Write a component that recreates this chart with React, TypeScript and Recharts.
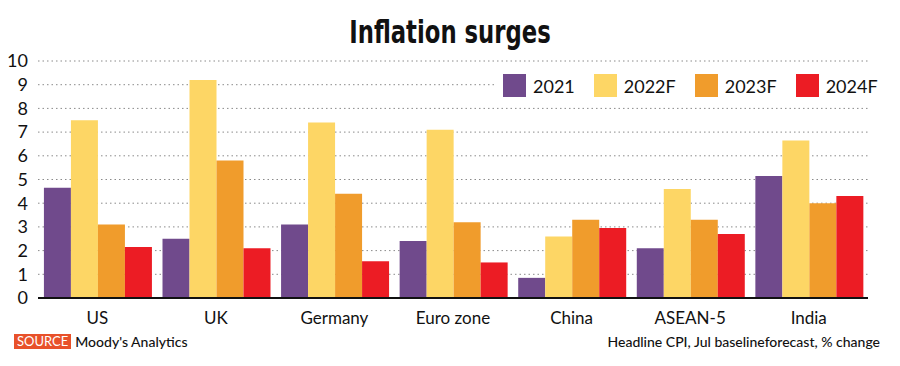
import React from 'react';
import { BarChart, Bar, XAxis, YAxis, CartesianGrid } from 'recharts';

const countries = ['US', 'UK', 'Germany', 'Euro zone', 'China', 'ASEAN-5', 'India'];
const cpi2021 = [4.65, 2.5, 3.1, 2.4, 0.85, 2.1, 5.15];
const cpi2022F = [7.5, 9.2, 7.4, 7.1, 2.6, 4.6, 6.65];
const cpi2023F = [3.1, 5.8, 4.4, 3.2, 3.3, 3.3, 4.0];
const cpi2024F = [2.15, 2.1, 1.55, 1.5, 2.95, 2.7, 4.3];
const yTicks = [0, 1, 2, 3, 4, 5, 6, 7, 8, 9, 10];

const seriesMeta = [
  { key: 'y2021', name: '2021', color: '#704a8c' },
  { key: 'y2022F', name: '2022F', color: '#fdd665' },
  { key: 'y2023F', name: '2023F', color: '#f09c2c' },
  { key: 'y2024F', name: '2024F', color: '#ec1c24' },
];

const data = countries.map((c, i) => ({
  country: c,
  y2021: cpi2021[i],
  y2022F: cpi2022F[i],
  y2023F: cpi2023F[i],
  y2024F: cpi2024F[i],
}));

const FONT = 'Lato, "Noto Sans", sans-serif';

// legend sits on a white box so it hides the dotted grid line behind it
const LegendBox = () => (
  <div style={{ position: 'absolute', left: 495, top: 70, display: 'flex', alignItems: 'center', background: '#fff', padding: '4px 0 4px 8px' }}>
    {seriesMeta.map((s, i) => (
      <div key={s.key} style={{ display: 'flex', alignItems: 'center', marginRight: i < 3 ? 19 : 0 }}>
        <span style={{ width: 23, height: 23, background: s.color, display: 'inline-block', marginRight: 7 }} />
        <span style={{ fontSize: 18, color: '#111' }}>{s.name}</span>
      </div>
    ))}
  </div>
);

const App = () => {
  return (
    <div style={{ position: 'absolute', left: 0, top: 0, width: 900, height: 366, background: '#fff', fontFamily: FONT }}>
      <div
        style={{
          position: 'absolute', left: 0, width: 900, top: 12, textAlign: 'center',
          fontFamily: '"Liberation Sans Narrow", "DejaVu Sans Condensed", "Liberation Sans", sans-serif',
          fontWeight: 700, fontSize: 32, lineHeight: '40px', color: '#111',
          transform: 'scaleX(0.79)',
        }}
      >
        Inflation surges
      </div>
      <BarChart
        width={900}
        height={366}
        data={data}
        margin={{ top: 61, right: 32, left: 0, bottom: 38 }}
        barCategoryGap="5%"
        barGap={0}
      >
        <CartesianGrid vertical={false} stroke="#8a8a8a" strokeDasharray="1.5 3" />
        <XAxis
          dataKey="country"
          axisLine={{ stroke: '#111', strokeWidth: 2 }}
          tickLine={false}
          tickMargin={8}
          height={30}
          tick={{ fontSize: 17, fill: '#111', fontFamily: FONT }}
        />
        <YAxis
          width={38}
          domain={[0, 10]}
          ticks={yTicks}
          interval={0}
          axisLine={false}
          tickLine={false}
          tickMargin={4}
          tick={{ fontSize: 18, fill: '#111', fontFamily: FONT }}
        />
        {seriesMeta.map((s) => (
          <Bar key={s.key} dataKey={s.key} name={s.name} fill={s.color} isAnimationActive={false} />
        ))}
      </BarChart>
      <LegendBox />
      <div style={{ position: 'absolute', left: 14, top: 333, display: 'flex', alignItems: 'center', fontSize: 14 }}>
        <span style={{ background: '#e8512a', color: '#fff', padding: '0 3px', fontSize: 13, lineHeight: '15px' }}>SOURCE</span>
        <span style={{ marginLeft: 4, color: '#111', fontWeight: 500 }}>Moody's Analytics</span>
      </div>
      <div style={{ position: 'absolute', right: 20, top: 333, fontSize: 14, color: '#111', fontWeight: 500 }}>
        Headline CPI, Jul baselineforecast, % change
      </div>
    </div>
  );
};

export default App;
